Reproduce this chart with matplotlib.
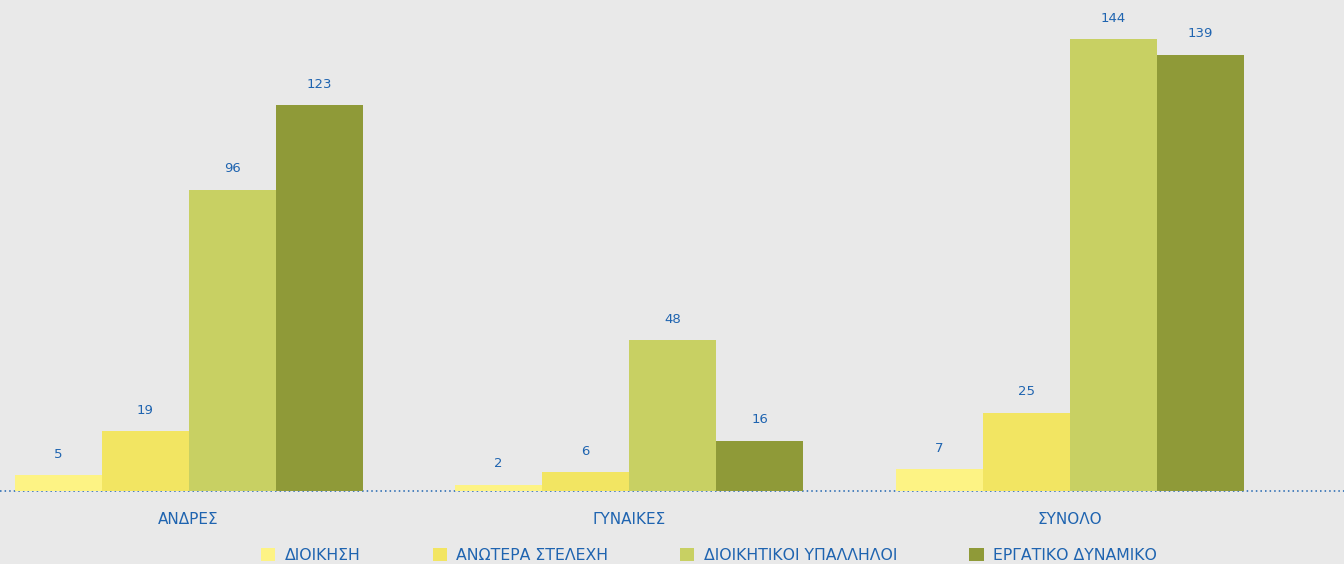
import matplotlib
matplotlib.use("Agg")
import matplotlib.pyplot as plt
import numpy as np
from matplotlib.patches import Patch

categories = ["ΑΝΔΡΕΣ", "ΓΥΝΑΙΚΕΣ", "ΣΥΝΟΛΟ"]
series_names = ["ΔΙΟΙΚΗΣΗ", "ΑΝΩΤΕΡΑ ΣΤΕΛΕΧΗ", "ΔΙΟΙΚΗΤΙΚΟΙ ΥΠΑΛΛΗΛΟΙ", "ΕΡΓΑΤΙΚΟ ΔΥΝΑΜΙΚΟ"]
dioikisi = [5, 2, 7]
anotera = [19, 6, 25]
dioikitikoi = [96, 48, 144]
ergatiko = [123, 16, 139]
colors = ["#fdf384", "#f2e562", "#c8d063", "#8f9a38"]

series = [dioikisi, anotera, dioikitikoi, ergatiko]

BG = "#e9e9e9"
BLUE = "#1f64b0"

fig = plt.figure(figsize=(13.44, 5.64), dpi=100, facecolor=BG)
ax = fig.add_axes([0, 73/564, 1, 491/564])
ax.set_facecolor(BG)

x = np.arange(len(categories))
w = 0.1975
for i, (vals, c) in enumerate(zip(series, colors)):
    pos = x + (i - 1.5) * w
    ax.bar(pos, vals, width=w, color=c, zorder=3, linewidth=0)
    for p, v in zip(pos, vals):
        ax.annotate(str(v), xy=(p, v), xytext=(0, 15), textcoords="offset points",
                    ha="center", va="center", color=BLUE, fontsize=9.5, zorder=4)

ax.axhline(0, color=BLUE, linestyle=(0, (1, 2)), linewidth=1.1, zorder=2,
           clip_on=False)
ax.set_xlim(-0.428, 2.623)
ax.set_ylim(0, 156.4)
for s in ax.spines.values():
    s.set_visible(False)
ax.set_xticks([])
ax.set_yticks([])

for xi, cat in zip(x, categories):
    ax.annotate(cat, xy=(xi, 0), xycoords="data", xytext=(0, -20.5),
                textcoords="offset points", ha="center", va="center",
                color=BLUE, fontsize=11, annotation_clip=False)

handles = [Patch(facecolor=c, edgecolor="none") for c in colors]
leg = fig.legend(handles, series_names, loc="center", ncol=4,
                 bbox_to_anchor=(0.5275, 9/564), frameon=False,
                 fontsize=11.3, handlelength=0.9, handleheight=0.9,
                 handletextpad=0.6, columnspacing=4.6)
for t in leg.get_texts():
    t.set_color(BLUE)

fig.savefig("out.png", dpi=100, facecolor=BG)
